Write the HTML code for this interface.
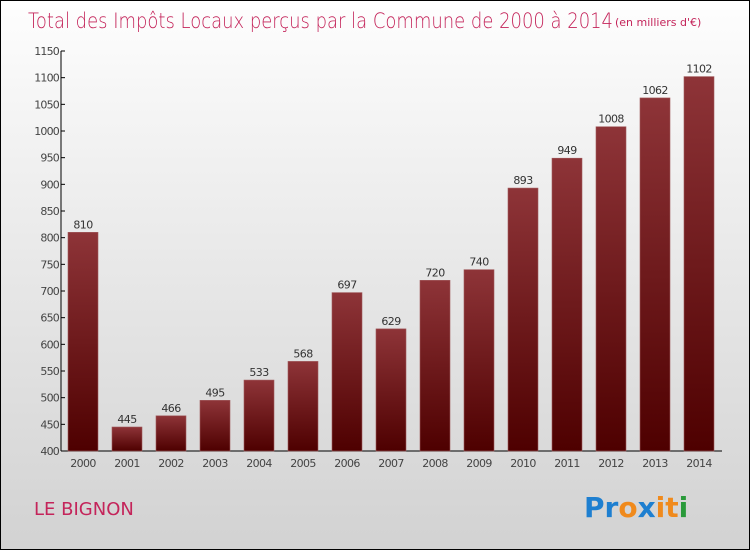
<!DOCTYPE html>
<html><head><meta charset="utf-8"><style>
body{margin:0}
#c{position:relative;width:748px;height:548px;border:1px solid #000;background:linear-gradient(#fefefe,#f0f0f0 30%,#d2d2d2);font-family:"DejaVu Sans","Liberation Sans",sans-serif;overflow:hidden}
</style></head><body>
<div id="c">
<svg width="748" height="548">
<defs><linearGradient id="bg" x1="0" y1="0" x2="0" y2="1"><stop offset="0" stop-color="#8e3438"/><stop offset="1" stop-color="#4e0000"/></linearGradient></defs>
<text x="27" y="27" font-size="21" fill="#c4245a" font-family="DejaVu Sans" font-weight="200" textLength="585" lengthAdjust="spacingAndGlyphs">Total des Impôts Locaux perçus par la Commune de 2000 à 2014</text>
<text x="614" y="25" font-size="11" fill="#c4245a">(en milliers d'€)</text>
<g id="axes"></g><g id="bars"></g>
<text x="33" y="514" font-size="18" fill="#c4245a">LE BIGNON</text>
<g font-size="28" font-family="DejaVu Sans" font-weight="bold">
<text x="583" y="516"><tspan fill="#1e7fd0">Pr</tspan><tspan fill="#f08a1c">o</tspan><tspan fill="#1e7fd0">x</tspan><tspan fill="#f08a1c">i</tspan><tspan fill="#f08a1c">t</tspan><tspan fill="#2a9a3a">i</tspan></text></g>
</svg></div>
<script>
const years=["2000","2001","2002","2003","2004","2005","2006","2007","2008","2009","2010","2011","2012","2013","2014"];
const values=[810,445,466,495,533,568,697,629,720,740,893,949,1008,1062,1102];
const ticks=[400,450,500,550,600,650,700,750,800,850,900,950,1000,1050,1100,1150];
const NS="http://www.w3.org/2000/svg";
const y=v=>450-(v-400)*400/750;
const x=i=>82+i*44;
function mk(t,a,p){const e=document.createElementNS(NS,t);for(const k in a)e.setAttribute(k,a[k]);p.appendChild(e);return e;}
const ax=document.getElementById('axes'),bg=document.getElementById('bars');
let l=mk('line',{x1:60,y1:50,x2:60,y2:450,stroke:'#000'},ax);


l=mk('line',{x1:60,y1:450,x2:721,y2:450,stroke:'#000'},ax);


ticks.forEach(t=>{mk('line',{x1:60,y1:y(t),x2:64,y2:y(t),stroke:'#000'},ax);
const tx=mk('text',{x:58,y:y(t)+4,'font-size':11,fill:'#444','text-anchor':'end','letter-spacing':'-0.8'},ax);tx.textContent=t;

});
years.forEach((yr,i)=>{
const r=mk('rect',{x:x(i)-15,y:y(values[i]),width:30,height:450-y(values[i]),fill:'url(#bg)',stroke:'#a05a5c','stroke-width':0.6},bg);


const v=mk('text',{x:x(i),y:y(values[i])-4,'font-size':11,fill:'#333','text-anchor':'middle','letter-spacing':'-0.6'},bg);v.textContent=values[i];


const t=mk('text',{x:x(i),y:466,'font-size':11,fill:'#444','text-anchor':'middle','letter-spacing':'-0.6'},bg);t.textContent=yr;

});
</script></body></html>
